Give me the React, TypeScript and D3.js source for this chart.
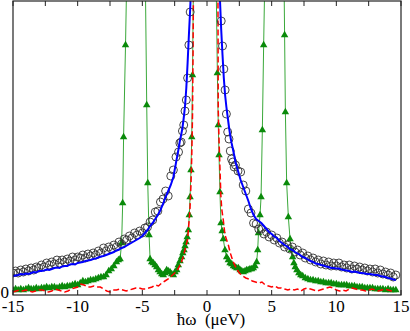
import { useEffect, useRef } from 'react';
import * as d3 from 'd3';

// measured spectrum: [energy (ueV), intensity]
const measured: [number, number][] = [
  [-15, 22], [-14.8, 24], [-14.6, 22], [-14.4, 25], [-14.2, 23], [-14, 26], [-13.8, 24], [-13.6, 27], [-13.4, 25], [-13.2, 28],
  [-13, 27], [-12.8, 30], [-12.6, 28], [-12.4, 32], [-12.2, 30], [-12, 33], [-11.8, 31], [-11.6, 35], [-11.4, 32], [-11.2, 35],
  [-11, 33], [-10.8, 36], [-10.6, 34], [-10.4, 38], [-10.2, 35], [-10, 38], [-9.8, 37], [-9.6, 40], [-9.4, 37], [-9.2, 41],
  [-9, 39], [-8.8, 42], [-8.6, 40], [-8.4, 44], [-8.2, 42], [-8, 47], [-7.8, 44], [-7.6, 48], [-7.4, 46], [-7.2, 50],
  [-7, 48], [-6.8, 53], [-6.6, 51], [-6.4, 56], [-6.2, 55], [-6, 59], [-5.8, 57], [-5.6, 62], [-5.4, 60], [-5.2, 64],
  [-5, 62], [-4.8, 67], [-4.6, 68], [-4.4, 73], [-4.2, 75], [-4, 83], [-3.8, 84], [-3.6, 93], [-3.4, 96], [-3.2, 104],
  [-3, 99], [-2.8, 119], [-2.6, 125], [-2.4, 138], [-2.2, 143], [-2.1, 152], [-2, 153], [-1.9, 164], [-1.8, 170], [-1.7, 184],
  [-1.6, 195], [-1.5, 217], [-1.4, 250], [-1.3, 283], [-1.2, 320], [-1, 380], [-0.6, 560], [-0.2, 700], [0.2, 650], [0.6, 480],
  [0.9, 330], [1, 300], [1.1, 274], [1.2, 249], [1.3, 226], [1.4, 205], [1.5, 181], [1.6, 163], [1.7, 156], [1.8, 144],
  [1.9, 136], [2, 133], [2.1, 128], [2.2, 130], [2.4, 124], [2.6, 123], [2.8, 110], [3, 104], [3.2, 86], [3.4, 82],
  [3.6, 72], [3.8, 71], [4, 66], [4.2, 66], [4.4, 61], [4.6, 63], [4.8, 58], [5, 60], [5.2, 55], [5.4, 57],
  [5.6, 52], [5.8, 53], [6, 48], [6.2, 50], [6.4, 46], [6.6, 48], [6.8, 43], [7, 45], [7.2, 40], [7.4, 42],
  [7.6, 37], [7.8, 39], [8, 35], [8.2, 37], [8.4, 33], [8.6, 35], [8.8, 31], [9, 34], [9.2, 30], [9.4, 33],
  [9.6, 29], [9.8, 32], [10, 29], [10.2, 32], [10.4, 28], [10.6, 30], [10.8, 27], [11, 30], [11.2, 26], [11.4, 29],
  [11.6, 26], [11.8, 28], [12, 25], [12.2, 27], [12.4, 24], [12.6, 26], [12.8, 23], [13, 26], [13.2, 22], [13.4, 25],
  [13.6, 21], [13.8, 23], [14, 20], [14.2, 22], [14.4, 18], [14.6, 20],
];

// fit through the measured points (blue)
const fit: [number, number][] = [
  [-15, 19], [-14.8, 19.5], [-14.6, 20], [-14.4, 21], [-14.2, 20.5], [-14, 21.5], [-13.8, 21], [-13.6, 22], [-13.4, 23], [-13.2, 22.5],
  [-13, 24], [-12.8, 24], [-12.6, 24.5], [-12.4, 25.5], [-12.2, 25], [-12, 26], [-11.8, 27], [-11.6, 27.5], [-11.4, 27], [-11.2, 28.5],
  [-11, 29], [-10.8, 29], [-10.6, 30.5], [-10.4, 31], [-10.2, 30.5], [-10, 32], [-9.8, 32.5], [-9.6, 33], [-9.4, 34], [-9.2, 34.5],
  [-9, 35], [-8.8, 36], [-8.6, 36.5], [-8.4, 37.5], [-8.2, 38.5], [-8, 39], [-7.8, 40], [-7.6, 41], [-7.4, 42], [-7.2, 43],
  [-7, 44.5], [-6.8, 45.5], [-6.6, 47], [-6.4, 48], [-6.2, 49.5], [-6, 51], [-5.8, 52.5], [-5.6, 54], [-5.4, 55.5], [-5.2, 57],
  [-5, 59], [-4.8, 62], [-4.6, 65], [-4.4, 69], [-4.2, 72], [-4, 76], [-3.8, 80], [-3.6, 85], [-3.4, 91], [-3.2, 98],
  [-3, 104], [-2.8, 110], [-2.6, 118], [-2.4, 132], [-2.2, 146], [-2.1, 154], [-2, 160], [-1.9, 167], [-1.8, 177], [-1.7, 189],
  [-1.6, 207], [-1.5, 232], [-1.4, 260], [-1.3, 286], [-1.2, 318], [-1, 380], [-0.6, 560], [-0.2, 700], [0.2, 650], [0.6, 480],
  [0.9, 330], [1, 296], [1.1, 265], [1.2, 240], [1.3, 217], [1.4, 200], [1.5, 188], [1.6, 178], [1.7, 168], [1.8, 159],
  [1.9, 152], [2, 146], [2.1, 140], [2.2, 133], [2.4, 124], [2.6, 115], [2.8, 108], [3, 101], [3.2, 94], [3.4, 86],
  [3.6, 80], [3.8, 76], [4, 74], [4.2, 72], [4.4, 69], [4.6, 66], [4.8, 63], [5, 61], [5.2, 58.5], [5.4, 57],
  [5.6, 54], [5.8, 52], [6, 50], [6.2, 48.5], [6.4, 46], [6.6, 45], [6.8, 43], [7, 41.5], [7.2, 40], [7.4, 38],
  [7.6, 37], [7.8, 35.5], [8, 34], [8.2, 33], [8.4, 31.5], [8.6, 31], [8.8, 30], [9, 29.5], [9.2, 28.5], [9.4, 28],
  [9.6, 27], [9.8, 27], [10, 26.5], [10.2, 26.5], [10.4, 25.5], [10.6, 25], [10.8, 24.5], [11, 24], [11.2, 23], [11.4, 23.5],
  [11.6, 23], [11.8, 22], [12, 22], [12.2, 21.5], [12.4, 21], [12.6, 21], [12.8, 20.5], [13, 20], [13.2, 20], [13.4, 19],
  [13.6, 18.5], [13.8, 18], [14, 17], [14.2, 16.5], [14.4, 15.5], [14.6, 15],
];

// calculation, red dashed
const calcNarrow: [number, number][] = [
  [-15, 3], [-14.75, 4], [-14.5, 5], [-14.25, 4], [-14, 5], [-13.75, 4], [-13.5, 3], [-13.25, 4], [-13, 5], [-12.75, 5],
  [-12.5, 4], [-12.25, 3], [-12, 4], [-11.75, 6], [-11.5, 5], [-11.25, 4], [-11, 3], [-10.75, 4], [-10.5, 6], [-10.25, 7],
  [-10, 8], [-9.75, 11], [-9.5, 10], [-9.25, 8], [-9, 8], [-8.75, 9], [-8.5, 8], [-8.25, 8], [-8, 6], [-7.75, 4],
  [-7.5, 3], [-7.25, 5], [-7, 5], [-6.75, 6], [-6.5, 5], [-6.25, 4], [-6, 5], [-5.75, 6], [-5.5, 7], [-5.25, 7],
  [-5, 6], [-4.75, 6], [-4.5, 7], [-4.25, 8], [-4, 10], [-3.75, 9], [-3.5, 12], [-3.25, 14], [-3, 16], [-2.75, 19],
  [-2.5, 22], [-2.25, 26], [-2, 32], [-1.85, 38], [-1.7, 45], [-1.57, 52], [-1.49, 56], [-1.44, 66], [-1.37, 76], [-1.31, 88],
  [-1.24, 110], [-1.18, 138], [-1.12, 180], [-1.08, 240], [-1.04, 320], [-0.7, 700], [0, 900], [0.6, 700], [0.84, 330], [0.87, 185],
  [0.93, 155], [1, 128], [1.07, 100], [1.14, 86], [1.26, 75], [1.39, 60], [1.52, 55], [1.65, 50], [1.8, 42], [2, 34],
  [2.25, 27], [2.5, 22], [2.75, 19], [3, 17], [3.25, 16], [3.5, 14], [3.75, 13], [4, 12], [4.25, 13], [4.5, 10],
  [4.75, 9], [5, 8], [5.25, 9], [5.5, 7], [5.75, 7], [6, 6], [6.25, 5], [6.5, 6], [6.75, 5], [7, 6],
  [7.25, 4], [7.5, 6], [7.75, 7], [8, 6], [8.25, 5], [8.5, 4], [8.75, 5], [9, 6], [9.25, 7], [9.5, 8],
  [9.75, 7], [10, 5], [10.25, 4], [10.5, 5], [10.75, 4], [11, 6], [11.25, 7], [11.5, 6], [11.75, 5], [12, 5],
  [12.25, 4], [12.5, 5], [12.75, 6], [13, 5], [13.25, 4], [13.5, 5], [13.75, 6], [14, 5], [14.25, 4], [14.5, 5],
];

// calculation with side peaks, green triangles
const calcSide: [number, number][] = [
  [-15, 5], [-14.8, 6], [-14.6, 5], [-14.4, 6], [-14.2, 5], [-14, 6], [-13.8, 7], [-13.6, 6], [-13.4, 6], [-13.2, 7],
  [-13, 6], [-12.8, 7], [-12.6, 7], [-12.4, 8], [-12.2, 7], [-12, 8], [-11.8, 8], [-11.6, 7], [-11.4, 8], [-11.2, 9],
  [-11, 8], [-10.8, 9], [-10.6, 9], [-10.4, 10], [-10.2, 11], [-10, 10], [-9.8, 12], [-9.6, 14], [-9.4, 13], [-9.2, 14],
  [-9, 15], [-8.8, 15], [-8.6, 16], [-8.4, 17], [-8.2, 18], [-8, 18], [-7.8, 20], [-7.6, 24], [-7.4, 26], [-7.2, 29],
  [-7, 33], [-6.85, 35], [-6.72, 36], [-6.6, 52], [-6.52, 92], [-6.45, 158], [-6.3, 250], [-6.15, 360], [-5.8, 560], [-5.4, 700],
  [-5, 560], [-4.78, 330], [-4.66, 190], [-4.58, 112], [-4.48, 60], [-4.4, 36], [-4.28, 33], [-4.15, 32], [-4.02, 30], [-3.89, 28],
  [-3.76, 25], [-3.63, 23], [-3.5, 21], [-3.38, 20], [-3.25, 22], [-3.12, 25], [-3, 24], [-2.86, 23], [-2.73, 21], [-2.6, 20],
  [-2.47, 23], [-2.34, 25], [-2.22, 30], [-2.09, 34], [-1.96, 38], [-1.87, 42], [-1.78, 45], [-1.7, 49], [-1.62, 53], [-1.53, 58],
  [-1.44, 65], [-1.37, 80], [-1.31, 98], [-1.24, 125], [-1.18, 158], [-1.12, 220], [-1.06, 300], [-0.8, 500], [-0.3, 800], [0.3, 800],
  [0.6, 450], [0.72, 300], [0.8, 222], [0.87, 170], [0.93, 140], [1, 103], [1.08, 72], [1.17, 64], [1.26, 56], [1.39, 45],
  [1.52, 38], [1.65, 35], [1.78, 32], [1.91, 31], [2.04, 29], [2.17, 28], [2.3, 27], [2.43, 27], [2.56, 25], [2.69, 24],
  [2.81, 23], [2.94, 24], [3.07, 25], [3.19, 25], [3.32, 26], [3.45, 26], [3.58, 27], [3.71, 29], [3.84, 33], [3.92, 45],
  [3.98, 62], [4.1, 80], [4.18, 98], [4.28, 165], [4.38, 250], [4.5, 340], [4.9, 600], [5.3, 720], [5.7, 580], [5.92, 360],
  [6, 260], [6.06, 183], [6.16, 112], [6.29, 78], [6.42, 56], [6.52, 45], [6.62, 38], [6.72, 32], [6.82, 28], [6.95, 25],
  [7.1, 22], [7.25, 20], [7.4, 19], [7.6, 17], [7.8, 16], [8, 15], [8.2, 15], [8.4, 14], [8.6, 14], [8.8, 13],
  [9, 13], [9.2, 12], [9.4, 12], [9.6, 12], [9.8, 11], [10, 11], [10.2, 10], [10.4, 10], [10.6, 10], [10.8, 10],
  [11, 9], [11.2, 9], [11.4, 9], [11.6, 8], [11.8, 8], [12, 8], [12.2, 7], [12.4, 7], [12.6, 7], [12.8, 7],
  [13, 6], [13.2, 6], [13.4, 6], [13.6, 6], [13.8, 5], [14, 6], [14.2, 5], [14.4, 5], [14.6, 5],
];

const xTickLabels = [-15, -10, -5, 0, 5, 10, 15];
const xMinorTicks = [-15, -12.5, -10, -7.5, -5, -2.5, 0, 2.5, 5, 7.5, 10, 12.5, 15];

const App = () => {
  const ref = useRef<SVGSVGElement>(null);
  const width = 410,
    height = 331;
  const left = 13,
    right = 401,
    top = 1,
    bottom = 295;

  useEffect(() => {
    const svg = d3.select(ref.current).attr('width', width).attr('height', height);
    svg.selectAll('*').remove();

    const x = d3.scaleLinear().domain([-15, 15]).range([left, right]);
    const y = d3.scaleLinear().domain([0, 294]).range([bottom, top]);

    svg.append('defs')
      .append('clipPath')
      .attr('id', 'plot-clip')
      .append('rect')
      .attr('x', left)
      .attr('y', top)
      .attr('width', right - left)
      .attr('height', bottom - top);

    const plot = svg.append('g').attr('clip-path', 'url(#plot-clip)');

    const line = d3
      .line<[number, number]>()
      .x((d) => x(d[0]))
      .y((d) => y(d[1]));

    // green calculation with triangles
    plot.append('path')
      .datum(calcSide)
      .attr('d', line)
      .attr('fill', 'none')
      .attr('stroke', '#3aa83a')
      .attr('stroke-width', 1);

    const tri = d3.symbol().type(d3.symbolTriangle).size(24);
    plot.append('g')
      .selectAll('path')
      .data(calcSide)
      .enter()
      .append('path')
      .attr('d', tri)
      .attr('transform', (d) => `translate(${x(d[0])},${y(d[1])})`)
      .attr('fill', '#0a8a0a');

    // red dashed calculation
    plot.append('path')
      .datum(calcNarrow)
      .attr('d', line)
      .attr('fill', 'none')
      .attr('stroke', '#ff0000')
      .attr('stroke-width', 1.5)
      .attr('stroke-dasharray', '6,3');

    // measured points
    plot.append('g')
      .selectAll('circle')
      .data(measured)
      .enter()
      .append('circle')
      .attr('cx', (d) => x(d[0]))
      .attr('cy', (d) => y(d[1]))
      .attr('r', 4)
      .attr('fill', 'none')
      .attr('stroke', '#333')
      .attr('stroke-width', 0.9);

    // fit
    plot.append('path')
      .datum(fit)
      .attr('d', line)
      .attr('fill', 'none')
      .attr('stroke', '#0000ff')
      .attr('stroke-width', 2);

    // frame
    svg.append('rect')
      .attr('x', left)
      .attr('y', top)
      .attr('width', right - left)
      .attr('height', bottom - top)
      .attr('fill', 'none')
      .attr('stroke', '#222')
      .attr('stroke-width', 1.2);

    // inward ticks on top and bottom
    const ticks = svg.append('g').attr('stroke', '#222').attr('stroke-width', 1);
    ticks.selectAll('line.b')
      .data(xMinorTicks)
      .enter()
      .append('line')
      .attr('class', 'b')
      .attr('x1', (d) => x(d))
      .attr('x2', (d) => x(d))
      .attr('y1', bottom)
      .attr('y2', bottom - 5);
    ticks.selectAll('line.t')
      .data(xMinorTicks)
      .enter()
      .append('line')
      .attr('class', 't')
      .attr('x1', (d) => x(d))
      .attr('x2', (d) => x(d))
      .attr('y1', top)
      .attr('y2', top + 5);

    const font = "'Liberation Serif', 'Times New Roman', serif";

    svg.append('g')
      .selectAll('text')
      .data(xTickLabels)
      .enter()
      .append('text')
      .attr('x', (d) => x(d))
      .attr('y', 312)
      .attr('text-anchor', 'middle')
      .attr('font-family', font)
      .attr('font-size', 17)
      .attr('fill', '#000')
      .text((d) => String(d));

    svg.append('text')
      .attr('x', 9)
      .attr('y', 298)
      .attr('text-anchor', 'end')
      .attr('font-family', font)
      .attr('font-size', 17)
      .text('0');

    svg.append('text')
      .attr('x', 211)
      .attr('y', 325)
      .attr('text-anchor', 'middle')
      .attr('font-family', font)
      .attr('font-size', 17)
      .style('white-space', 'pre')
      .text('ħω  (μeV)');
  }, []);

  return <svg ref={ref} style={{ position: 'absolute', left: 0, top: 0 }}></svg>;
};

export default App;
